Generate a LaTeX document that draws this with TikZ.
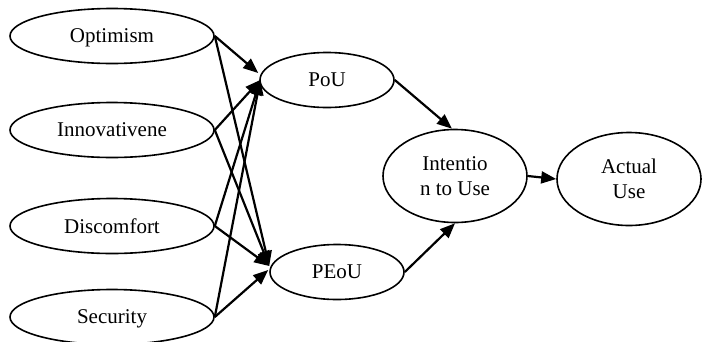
\documentclass[tikz,border=0pt]{standalone}
\usepackage{fontspec}
\setmainfont{Liberation Serif}
\usetikzlibrary{shapes.geometric,arrows.meta,calc}
\begin{document}
\begin{tikzpicture}[x=1pt,y=-1pt,
  ell/.style={ellipse,draw,line width=1.6pt,inner sep=0pt,font=\fontsize{21}{24.5}\selectfont,align=center},
  leftell/.style={ell,minimum width=204pt,minimum height=55pt,text depth=0pt},
  midell/.style={ell,minimum width=134pt,minimum height=55pt,text depth=0pt},
  bigell/.style={ell,minimum width=144pt,minimum height=93pt},
  arr/.style={line width=2.2pt,-{Triangle[length=15pt,width=12pt]}}]
\useasboundingbox (0,0) rectangle (707,341);
\clip (0,0) rectangle (707,341);
\node[leftell] (opt) at (112,36) {Optimism};
\node[leftell] (inn) at (112,130) {Innovativene};
\node[leftell] (dis) at (112,226) {Discomfort};
\node[leftell] (sec) at (112,317) {Security};
\node[midell] (pou) at (327,80) {PoU};
\node[midell] (peou) at (337,272) {PEoU};
\node[bigell] (int) at (455,176) {Intentio\\n to Use};
\node[bigell] (act) at (629,179) {Actual\\Use};
\draw[arr] (opt.east) -- ($(pou.west)+(-1,-7)$);
\draw[arr] (opt.east) -- ($(peou.west)+(0,-6)$);
\draw[arr] (inn.east) -- ($(pou.west)+(1,0)$);
\draw[arr] (inn.east) -- ($(peou.west)+(0,-6)$);
\draw[arr] (dis.east) -- ($(pou.west)+(1,0)$);
\draw[arr] (dis.east) -- ($(peou.west)+(0,-6)$);
\draw[arr] (sec.east) -- ($(pou.west)+(1,0)$);
\draw[arr] (sec.east) -- ($(peou.west)+(-1,-2)$);
\draw[arr] (pou.east) -- ($(int.north)+(-3,0)$);
\draw[arr] (peou.east) -- (int.south);
\draw[arr] (int.east) -- (act.west);
\end{tikzpicture}
\end{document}
